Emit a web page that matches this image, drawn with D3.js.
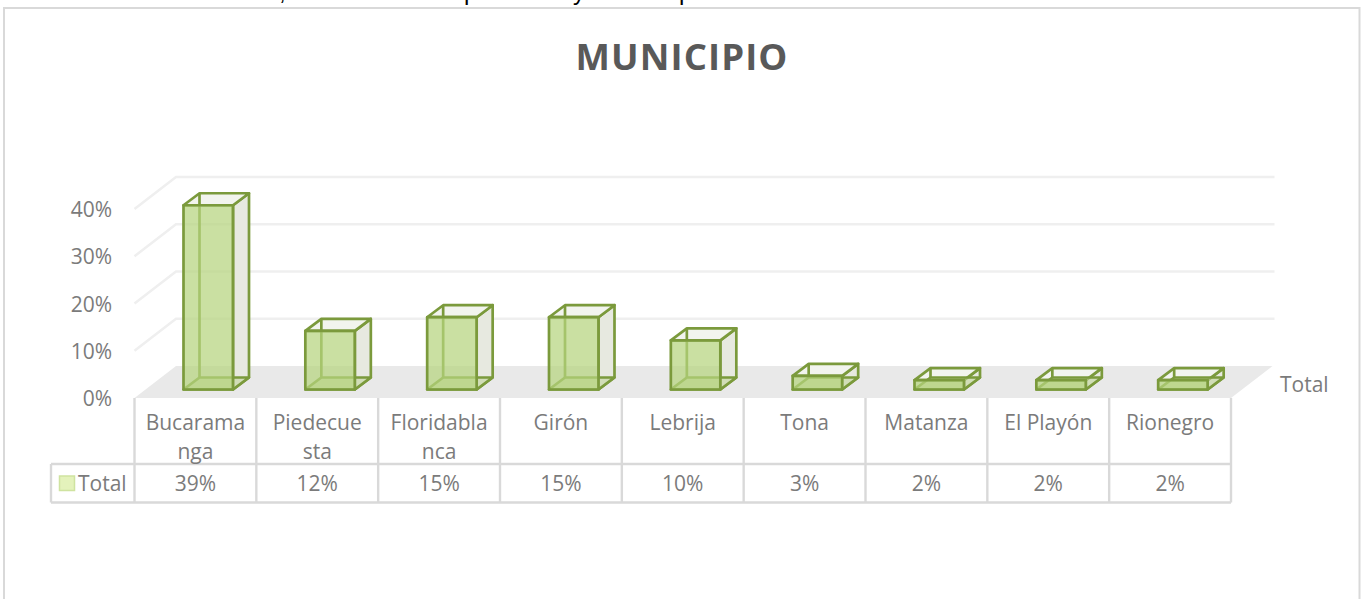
<!DOCTYPE html>
<html><head><meta charset="utf-8">
<script src="https://cdn.jsdelivr.net/npm/d3@7/dist/d3.min.js"></script>
<style>html,body{margin:0;padding:0;background:#fff}svg{display:block}text{font-family:"Open Sans",sans-serif}</style>
</head><body><svg id="c" width="1361" height="599"></svg>
<script>
const chartTitle = "MUNICIPIO";
const seriesName = "Total";
const categories = ["Bucaramanga","Piedecuesta","Floridablanca","Girón","Lebrija","Tona","Matanza","El Playón","Rionegro"];
const categoryLines = [["Bucarama","nga"],["Piedecue","sta"],["Floridabla","nca"],["Girón"],["Lebrija"],["Tona"],["Matanza"],["El Playón"],["Rionegro"]];
const values = [39,12.4,15.3,15.3,10.4,2.9,2,2,2];
const ticks = [0,10,20,30,40];

const svg = d3.select("#c");
const textCol = "#7b7b7b", tableCol = "#d9d9d9", gridCol = "#efefef";
const fs = 21;

// clipped line of page text above the chart
[[",",279],["p",464],["y",573],["p",679]].forEach(([g,xp])=>{
  svg.append("text").attr("x",xp).attr("y",-0.5).attr("font-size",24).attr("fill","#000").style("font-family","Liberation Sans").text(g);
});

svg.append("rect").attr("x",4).attr("y",8).attr("width",1355.5).attr("height",600)
  .attr("fill","#fff").attr("stroke",tableCol).attr("stroke-width",2);

svg.append("text").attr("x",682).attr("y",69.5).attr("text-anchor","middle")
  .attr("font-size",36.5).attr("font-weight",700).attr("letter-spacing",1.1).attr("fill","#595959").text(chartTitle);

const x = d3.scaleBand().domain(categories).range([134.5,1231]);
const yWall = d3.scaleLinear().domain([0,40]).range([398,209]);
const yBar = d3.scaleLinear().domain([0,40]).range([389.5,200.5]);
const dxW = 41.5, dyW = -32, dxB = 16, dyB = -12;
const bw = 49.5, bo = 49;

// floor
svg.append("path").attr("fill","#e9e9e9")
  .attr("d",d3.line()([[x.range()[0],398],[x.range()[0]+dxW,398+dyW],[x.range()[1]+dxW,398+dyW],[x.range()[1],398]])+"Z");

// gridlines on side and back walls
svg.append("g").selectAll("path").data(ticks.slice(1)).join("path")
  .attr("fill","none").attr("stroke",gridCol).attr("stroke-width",2.5)
  .attr("d",d=>{const y=yWall(d);return d3.line()([[x.range()[0],y],[x.range()[0]+dxW,y+dyW],[x.range()[1]+dxW+2,y+dyW]]);});

// y tick labels
svg.append("g").selectAll("text").data(ticks).join("text")
  .attr("x",112).attr("y",d=>yWall(d)+8).attr("text-anchor","end")
  .attr("font-size",fs).attr("fill",textCol).text(d=>d+"%");

// 3D boxes
const green = "#7b9a3c";
const bars = svg.append("g").selectAll("g").data(categories).join("g")
  .attr("transform",d=>`translate(${x(d)+bo},0)`);
const line = d3.line();
values.forEach((v,i)=>{
  const g = d3.select(bars.nodes()[i]);
  const b = yBar(0), t = yBar(v);
  const P = (pts,fill,op=1)=>g.append("path").attr("d",line(pts)+"Z").attr("fill",fill).attr("fill-opacity",op)
     .attr("stroke",green).attr("stroke-width",2.7).attr("stroke-linejoin","round");
  // right side
  P([[bw,b],[bw+dxB,b+dyB],[bw+dxB,t+dyB],[bw,t]],"#e7e9e0");
  // top
  P([[0,t],[dxB,t+dyB],[bw+dxB,t+dyB],[bw,t]],"#f2f4ee");
  // bottom
  P([[0,b],[dxB,b+dyB],[bw+dxB,b+dyB],[bw,b]],"#c3d69b",0.6);
  // hidden back edge
  g.append("path").attr("d",line([[dxB,b+dyB],[dxB,t+dyB]])).attr("stroke",green).attr("stroke-width",2.7).attr("fill","none");
  // front
  P([[0,b],[0,t],[bw,t],[bw,b]],"#b5d47e",0.72);
});

// table
const tl = svg.append("g").attr("stroke",tableCol).attr("stroke-width",2.4).attr("fill","none");
const rTop=398, rMid=464, rBot=502.5, left=51;
const edges = [...categories.map(c=>x(c)), x.range()[1]];
tl.selectAll("line.v").data(edges).join("line").attr("class","v")
  .attr("x1",d=>d).attr("x2",d=>d).attr("y1",rTop).attr("y2",rBot);
tl.append("line").attr("x1",left).attr("x2",x.range()[1]).attr("y1",rMid).attr("y2",rMid);
tl.append("line").attr("x1",left).attr("x2",x.range()[1]).attr("y1",rBot).attr("y2",rBot);
tl.append("line").attr("x1",left).attr("x2",left).attr("y1",rMid).attr("y2",rBot);

categories.forEach((c,i)=>{
  const cx = x(c)+x.bandwidth()/2;
  categoryLines[i].forEach((s,j)=>{
    svg.append("text").attr("x",cx).attr("y",430+j*29).attr("text-anchor","middle")
      .attr("font-size",fs).attr("fill",textCol).text(s);
  });
  svg.append("text").attr("x",cx).attr("y",491).attr("text-anchor","middle")
    .attr("font-size",fs).attr("fill",textCol).text(Math.round(values[i])+"%");
});

// legend key in table
svg.append("rect").attr("x",59.5).attr("y",476).attr("width",15).attr("height",14.5)
  .attr("fill","#e4f2bb").attr("stroke","#cfe3a0").attr("stroke-width",1.5);
svg.append("text").attr("x",78).attr("y",491).attr("font-size",fs).attr("fill",textCol).text(seriesName);

// depth axis label
svg.append("text").attr("x",1280).attr("y",391.5).attr("font-size",fs).attr("fill",textCol).text(seriesName);
</script></body></html>
